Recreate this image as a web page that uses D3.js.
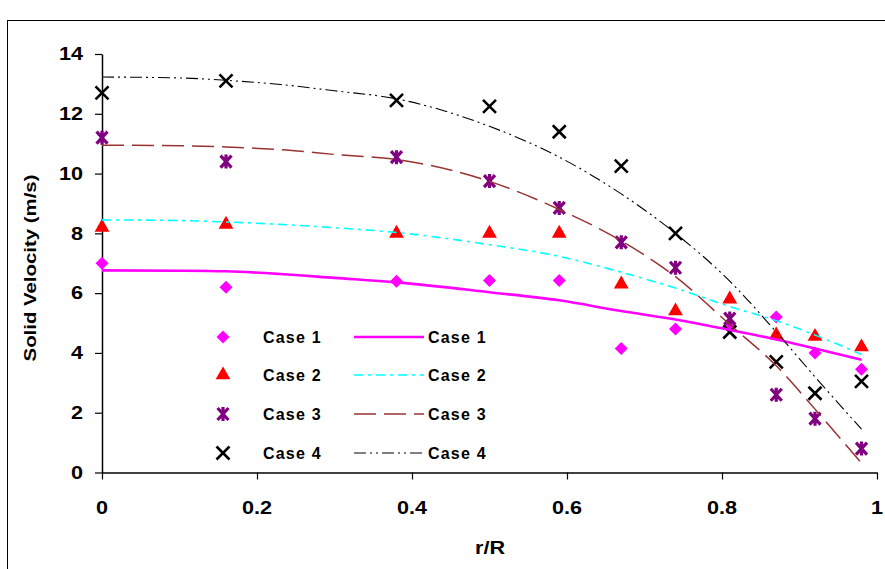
<!DOCTYPE html>
<html>
<head>
<meta charset="utf-8">
<script src="https://cdn.jsdelivr.net/npm/d3@7/dist/d3.min.js"></script>
<style>
  html, body { margin: 0; padding: 0; background: #ffffff; }
  svg { display: block; }
  text { font-family: "Liberation Sans", Arial, sans-serif; font-weight: bold; fill: #000; }
</style>
</head>
<body>
<svg id="chart" width="885" height="569"></svg>
<script>
// Measured radial positions (r/R) and solid velocities (m/s)
const radius = [0, 0.16, 0.38, 0.5, 0.59, 0.67, 0.74, 0.81, 0.87, 0.92, 0.98];
const case1Points = [7.0, 6.2, 6.4, 6.42, 6.42, 4.15, 4.8, 4.9, 5.2, 4.0, 3.45];
const case2Points = [8.2, 8.3, 8.0, 8.0, 8.0, 6.3, 5.4, 5.8, 4.6, 4.55, 4.2];
const case3Points = [11.2, 10.4, 10.55, 9.75, 8.85, 7.7, 6.85, 5.15, 2.6, 1.8, 0.8];
const case4Points = [12.7, 13.1, 12.45, 12.25, 11.4, 10.25, 8.0, 4.7, 3.7, 2.65, 3.05];

// Fitted profiles
const fitRadius = [0, 0.1, 0.16, 0.23, 0.3, 0.38, 0.5, 0.59, 0.67, 0.74, 0.81, 0.87, 0.92, 0.98];
const case1Fit = [6.76, 6.75, 6.73, 6.64, 6.51, 6.36, 6.03, 5.76, 5.4, 5.12, 4.77, 4.45, 4.15, 3.77];
const case2Fit = [8.45, 8.43, 8.38, 8.3, 8.19, 8.03, 7.62, 7.23, 6.7, 6.17, 5.55, 5.08, 4.6, 3.95];
const case3Fit = [10.95, 10.93, 10.89, 10.8, 10.64, 10.47, 9.74, 8.8, 7.75, 6.55, 4.95, 3.57, 2.12, 0.31];
const case4Fit = [13.23, 13.2, 13.12, 12.98, 12.77, 12.5, 11.58, 10.55, 9.32, 8.0, 6.4, 4.7, 3.2, 1.45];

const seriesNames = ["Case 1", "Case 2", "Case 3", "Case 4"];
const xTicks = [0, 0.2, 0.4, 0.6, 0.8, 1];
const xTickLabels = ["0", "0.2", "0.4", "0.6", "0.8", "1"];
const yTicks = [0, 2, 4, 6, 8, 10, 12, 14];

const svg = d3.select("#chart");
const STRETCH = 1.2;

// outer chart frame
svg.append("rect")
  .attr("x", 7.5).attr("y", 20.5)
  .attr("width", 1000).attr("height", 1000)
  .attr("fill", "none").attr("stroke", "#000").attr("stroke-width", 1);

const x = d3.scaleLinear().domain([0, 1]).range([102, 877]);
const y = d3.scaleLinear().domain([0, 14]).range([472.5, 54]);

// stretched bold label helper
function label(g, tx, ty, str, size, anchor, rotate) {
  g.append("text")
    .attr("transform", `translate(${tx},${ty})` + (rotate ? ` rotate(${rotate})` : "") + ` scale(${STRETCH},1)`)
    .attr("text-anchor", anchor)
    .attr("dy", "0.35em")
    .style("font-size", size + "px")
    .text(str);
}

// axes
const gx = svg.append("g").attr("transform", `translate(0,${y(0)})`)
  .call(d3.axisBottom(x).tickValues(xTicks).tickSize(7).tickSizeOuter(0).tickFormat(""));
const gy = svg.append("g").attr("transform", `translate(${x(0)},0)`)
  .call(d3.axisLeft(y).tickValues(yTicks).tickSize(7).tickSizeOuter(0).tickFormat(""));
[gx, gy].forEach(g => {
  g.select(".domain").attr("stroke", "#000").attr("stroke-width", 1.5);
  g.selectAll(".tick line").attr("stroke", "#000").attr("stroke-width", 1.2);
});

const labels = svg.append("g");
xTicks.forEach((t, i) => label(labels, x(t), y(0) + 35, xTickLabels[i], 18, "middle"));
yTicks.forEach(t => label(labels, x(0) - 19, y(t), String(t), 18, "end"));
label(labels, 490, 548, "r/R", 18, "middle");
label(labels, 30, 268, "Solid Velocity (m/s)", 17, "middle", -90);

// marker shapes
const markerDefs = [
  { color: "#ff00ff", draw: (g) => g.append("path").attr("d", "M0,-6.5L6.5,0L0,6.5L-6.5,0Z").attr("fill", "#ff00ff") },
  { color: "#ff0000", draw: (g) => g.append("path").attr("d", d3.symbol(d3.symbolTriangle, 95)()).attr("fill", "#ff0000") },
  { color: "#800080", draw: (g) => g.append("path").attr("d", "M-5.5,-6L5.5,6M-5.5,6L5.5,-6M0,-7L0,7").attr("stroke", "#800080").attr("stroke-width", 3.2).attr("fill", "none") },
  { color: "#000000", draw: (g) => g.append("path").attr("d", "M-6.5,-6.5L6.5,6.5M-6.5,6.5L6.5,-6.5").attr("stroke", "#000").attr("stroke-width", 2.6).attr("fill", "none") }
];

const lineDefs = [
  { color: "#ff00ff", width: 2.6, dash: null },
  { color: "#00ffff", width: 1.6, dash: "9,5,3,5" },
  { color: "#993333", width: 1.5, dash: "22,8" },
  { color: "#000000", width: 1.1, dash: "12,4,2,4,2,4" }
];

const pointSets = [case1Points, case2Points, case3Points, case4Points];
const fitSets = [case1Fit, case2Fit, case3Fit, case4Fit];

// measured points
pointSets.forEach((vals, s) => {
  const g = svg.append("g");
  vals.forEach((v, i) => {
    const m = g.append("g").attr("transform", `translate(${x(radius[i])},${y(v)})`);
    markerDefs[s].draw(m);
  });
});

// fitted curves
const line = d3.line().x((d) => x(d[0])).y((d) => y(d[1])).curve(d3.curveMonotoneX);
fitSets.forEach((vals, s) => {
  const p = svg.append("path")
    .attr("d", line(vals.map((v, i) => [fitRadius[i], v])))
    .attr("fill", "none")
    .attr("stroke", lineDefs[s].color)
    .attr("stroke-width", lineDefs[s].width);
  if (lineDefs[s].dash) p.attr("stroke-dasharray", lineDefs[s].dash);
});

// legend
const legendRows = [337, 375, 414, 453];
const legend = svg.append("g");
seriesNames.forEach((name, s) => {
  const ry = legendRows[s];
  const m = legend.append("g").attr("transform", `translate(223,${ry})`);
  markerDefs[s].draw(m);
  legend.append("text").attr("x", 263).attr("y", ry).attr("dy", "0.35em")
    .style("font-size", "16px").style("letter-spacing", "1.2px").text(name);
  const l = legend.append("line")
    .attr("x1", 354).attr("x2", 424).attr("y1", ry).attr("y2", ry)
    .attr("stroke", lineDefs[s].color).attr("stroke-width", lineDefs[s].width);
  if (lineDefs[s].dash) l.attr("stroke-dasharray", lineDefs[s].dash);
  legend.append("text").attr("x", 428).attr("y", ry).attr("dy", "0.35em")
    .style("font-size", "16px").style("letter-spacing", "1.2px").text(name);
});
</script>
</body>
</html>
